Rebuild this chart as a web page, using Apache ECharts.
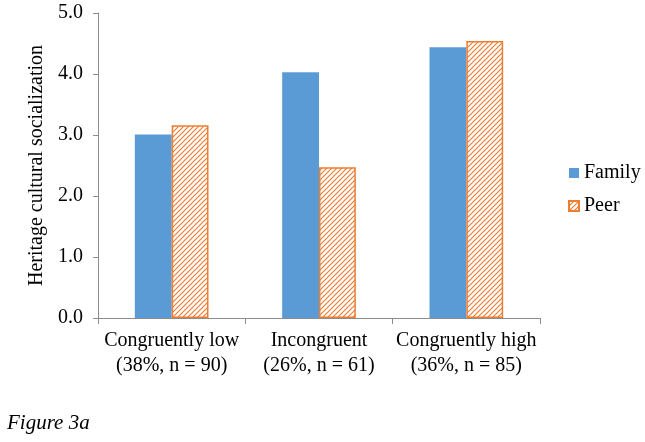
<!DOCTYPE html>
<html><head><meta charset="utf-8">
<script src="https://cdn.jsdelivr.net/npm/echarts@6/dist/echarts.min.js"></script>
<style>html,body{margin:0;padding:0;background:#fff}#c{width:645px;height:442px}</style>
</head><body><div id="c"></div>
<script>
const categories = ['Congruently low\n(38%, n = 90)', 'Incongruent\n(26%, n = 61)', 'Congruently high\n(36%, n = 85)'];
const familyValues = [3.01, 4.03, 4.44];
const peerValues = [3.16, 2.47, 4.54];
const yTicks = [0, 1, 2, 3, 4, 5];

function hatch() {
  const c = document.createElement('canvas');
  c.width = 5; c.height = 5;
  const g = c.getContext('2d');
  g.fillStyle = '#fff'; g.fillRect(0, 0, 5, 5);
  g.strokeStyle = '#ED7D31'; g.lineWidth = 1.2;
  g.beginPath();
  g.moveTo(-1, 6); g.lineTo(6, -1);
  g.moveTo(-1, 1); g.lineTo(1, -1);
  g.moveTo(4, 6); g.lineTo(6, 4);
  g.stroke();
  return c;
}
const pat = { image: hatch(), repeat: 'repeat' };
const font = 'Liberation Serif';
const chart = echarts.init(document.getElementById('c'));
chart.setOption({
  animation: false,
  textStyle: { fontFamily: font },
  grid: { left: 98, right: 105, top: 13, bottom: 124 },
  legend: {
    orient: 'vertical', left: 563, top: 158, itemGap: 13,
    itemWidth: 10, itemHeight: 10,
    textStyle: { fontFamily: font, fontSize: 20, color: '#000' },
    data: [{ name: 'Family', icon: 'rect' }, { name: 'Peer', icon: 'rect' }]
  },
  xAxis: {
    type: 'category', data: categories,
    axisLine: { lineStyle: { color: '#8c8c8c' } },
    axisTick: { show: true, length: 6, lineStyle: { color: '#8c8c8c' } },
    axisLabel: { interval: 0, fontFamily: font, fontSize: 20, color: '#000', lineHeight: 25, margin: 10 }
  },
  yAxis: {
    type: 'value', min: 0, max: 5, interval: 1,
    name: 'Heritage cultural socialization', nameLocation: 'middle', nameGap: 46,
    nameTextStyle: { fontFamily: font, fontSize: 20, color: '#000' },
    splitLine: { show: false },
    axisLine: { show: true, lineStyle: { color: '#8c8c8c' } },
    axisTick: { show: true, length: 5, lineStyle: { color: '#8c8c8c' } },
    axisLabel: { fontFamily: font, fontSize: 20, color: '#000', margin: 15,
      formatter: v => yTicks.includes(v) ? v.toFixed(1) : '' }
  },
  series: [
    { name: 'Family', type: 'bar', data: familyValues, barGap: '0%', barCategoryGap: '50%',
      itemStyle: { color: '#5B9BD5' } },
    { name: 'Peer', type: 'bar', data: peerValues, barGap: '0%', barCategoryGap: '50%',
      itemStyle: { color: pat, borderColor: '#ED7D31', borderWidth: 1.5 } }
  ],
  graphic: [{ type: 'text', left: 7, top: 413,
    style: { text: 'Figure 3a', font: 'italic 21px "Liberation Serif"', fill: '#000' } }]
});
</script></body></html>
